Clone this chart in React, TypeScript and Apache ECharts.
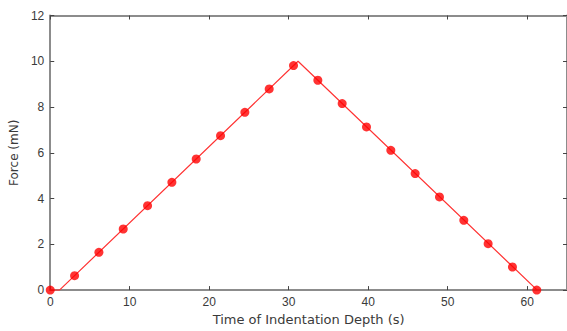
import React, { useEffect, useRef } from "react";
import * as echarts from "echarts";

const timeValues = [0, 3.06, 6.12, 9.18, 12.24, 15.3, 18.36, 21.42, 24.48, 27.54, 30.6, 33.66, 36.72, 39.78, 42.84, 45.9, 48.96, 52.02, 55.08, 58.14, 61.2];
const forceValues = [0, 0.63, 1.65, 2.67, 3.69, 4.71, 5.73, 6.75, 7.77, 8.79, 9.81, 9.17, 8.15, 7.13, 6.11, 5.09, 4.07, 3.05, 2.03, 1.01, 0];
const lineTime = [0, 1.16, 31.17, 61.25];
const lineForce = [0, 0, 10, 0];

const AXIS_GREY = "#8c8c8c";
const TEXT = "#3a3a3a";
const FONT = "Liberation Sans, Arial, sans-serif";
const TITLE_FONT = "DejaVu Sans, sans-serif";

export default function App() {
  const ref = useRef<HTMLDivElement>(null);
  useEffect(() => {
    if (!ref.current) return;
    const chart = echarts.init(ref.current, null, { renderer: "svg" });
    const axisCommon = {
      axisLine: { show: true, onZero: false, lineStyle: { color: AXIS_GREY, width: 2 } },
      axisTick: { show: true, inside: true, length: 4, lineStyle: { color: "#444", width: 1 } },
      splitLine: { show: false },
    };
    chart.setOption({
      animation: false,
      backgroundColor: "#fff",
      grid: { left: 47.5, top: 15.5, width: 522, height: 279, containLabel: false },
      xAxis: [
        {
          type: "value",
          position: "bottom",
          min: 0,
          max: 65,
          interval: 10,
          ...axisCommon,
          axisLabel: { color: TEXT, fontSize: 12, fontFamily: FONT, margin: 6, showMaxLabel: false },
          name: "Time of Indentation Depth (s)",
          nameLocation: "middle",
          nameGap: 21,
          nameTextStyle: { color: TEXT, fontSize: 13, fontFamily: TITLE_FONT },
        },
        {
          type: "value",
          position: "top",
          min: 0,
          max: 65,
          interval: 10,
          ...axisCommon,
          axisLabel: { show: false },
        },
      ],
      yAxis: [
        {
          type: "value",
          position: "left",
          min: 0,
          max: 12,
          interval: 2,
          ...axisCommon,
          axisLabel: { color: TEXT, fontSize: 12, fontFamily: FONT, margin: 6 },
          name: "Force (mN)",
          nameLocation: "middle",
          nameGap: 27,
          nameTextStyle: { color: TEXT, fontSize: 12, fontFamily: TITLE_FONT },
        },
        {
          type: "value",
          position: "right",
          min: 0,
          max: 12,
          interval: 2,
          ...axisCommon,
          axisLabel: { show: false },
        },
      ],
      series: [
        {
          type: "line",
          data: lineTime.map((t, i) => [t, lineForce[i]]),
          showSymbol: false,
          symbol: "none",
          lineStyle: { color: "#ff3333", width: 1.2 },
          z: 2,
        },
        {
          type: "scatter",
          data: timeValues.map((t, i) => [t, forceValues[i]]),
          symbol: "circle",
          symbolSize: 9,
          itemStyle: { color: "#ff0000" },
          z: 3,
        },
      ],
    });
    return () => chart.dispose();
  }, []);
  return <div ref={ref} style={{ width: 567, height: 331, position: "absolute", left: 0, top: 0 }} />;
}
